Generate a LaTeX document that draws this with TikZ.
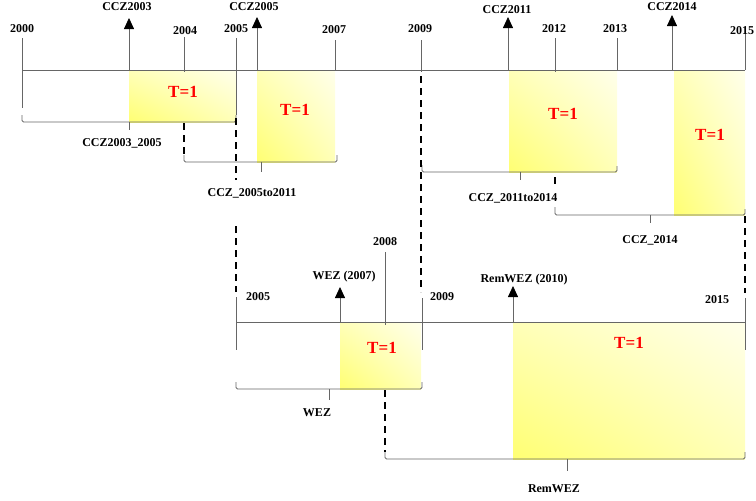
\documentclass[tikz,border=0pt]{standalone}
\usepackage{fontspec}
\setmainfont{Liberation Serif}
\usetikzlibrary{arrows.meta,shadings}
\begin{document}
\begin{tikzpicture}[x=1pt,y=-1pt,
  tl/.style={draw=black!60, line width=0.8pt},
  brk/.style={draw=black!60, line width=0.8pt, rounded corners=1.5pt},
  dl/.style={draw=black, line width=1.6pt, dash pattern=on 7pt off 5pt},
  ar/.style={draw=black!60, line width=0.8pt, -{Triangle[length=11pt,width=10pt,color=black]}},
  lab/.style={font=\bfseries\fontsize{12}{14}\selectfont, inner sep=0pt},
  blab/.style={font=\bfseries\fontsize{12}{14}\selectfont, inner sep=0pt},
  tv/.style={font=\bfseries\fontsize{17}{19}\selectfont, text=red, inner sep=0pt},
  zone/.style={lower left=yellow!55, upper right=yellow!8, upper left=yellow!28, lower right=yellow!28},
]
\useasboundingbox (0,0) rectangle (756,501);

% ---------- shaded zones ----------
\shade[zone] (129,71) rectangle (236,122);
\shade[zone] (257,71) rectangle (335,162);
\shade[zone] (509,71) rectangle (617,172);
\shade[zone] (674,71) rectangle (745,215);
\shade[zone] (340,323) rectangle (421,389);
\shade[zone] (513,323) rectangle (745,459);
\node[tv] (t1) at (183,92) {T=1};
\node[tv] (t2) at (295,110) {T=1};
\node[tv] (t3) at (563,114) {T=1};
\node[tv] (t4) at (710,135) {T=1};
\node[tv] (t5) at (382,348) {T=1};
\node[tv] (t6) at (629,343) {T=1};

% ---------- top timeline ----------
\coordinate (tlA) at (22,70);
\coordinate (tlB) at (745,70);
\draw[tl] (tlA) -- (tlB);

% year ticks (top)
\draw[tl] (22,38) -- (22,108);
\draw[tl] (184,37) -- (184,72);
\draw[tl] (236,38) -- (236,115);
\draw[tl] (335,40) -- (335,70);
\draw[tl] (421,40) -- (421,72);
\draw[tl] (555,38) -- (555,72);
\draw[tl] (617,38) -- (617,70);
\draw[tl] (745,32) -- (745,70);
\node[lab] (y2000) at (22,29) {2000};
\node[lab] (y2004) at (185,31) {2004};
\node[lab] (y2005) at (236,29) {2005};
\node[lab] (y2007) at (334,30) {2007};
\node[lab] (y2009) at (420,29) {2009};
\node[lab] (y2012) at (554,29) {2012};
\node[lab] (y2013) at (615,29) {2013};
\node[lab] (y2015) at (742,31) {2015};

% event arrows (top)
\draw[ar] (129,70) -- (129,18);
\draw[ar] (257,70) -- (257,17);
\draw[ar] (508,70) -- (508,17);
\draw[ar] (672,70) -- (672,15);
\node[lab] (c2003) at (127,7) {CCZ2003};
\node[lab] (c2005) at (254,7) {CCZ2005};
\node[lab] (c2011) at (507,10) {CCZ2011};
\node[lab] (c2014) at (672,7) {CCZ2014};

% brackets (top)
\draw[brk] (22,115) -- (22,122) -- (236,122) -- (236,115);
\draw[tl] (129,122) -- (129,130);
\node[blab] (b1) at (122,143) {CCZ2003\_2005};

\draw[brk] (184,155) -- (184,162) -- (337,162) -- (337,155);
\draw[tl] (261,162) -- (261,172);
\node[blab] (b2) at (252,193) {CCZ\_2005to2011};

\draw[brk] (422,165) -- (422,172) -- (617,172) -- (617,166);
\draw[tl] (520,172) -- (520,180);
\node[blab] (b3) at (513,198) {CCZ\_2011to2014};

\draw[brk] (555,207) -- (555,215) -- (745,215) -- (745,209);
\draw[tl] (650,215) -- (650,223);
\node[blab] (b4) at (650,240) {CCZ\_2014};

% dashed connectors
\draw[dl] (184,123) -- (184,155);
\draw[dl] (236,118) -- (236,180);
\draw[dl] (236,226) -- (236,292);
\draw[dl] (421,76) -- (421,292);
\draw[dl] (555,177) -- (555,185);
\draw[dl] (745,216) -- (745,293);
\draw[dl] (385,390) -- (385,452);

% ---------- bottom timeline ----------
\coordinate (blA) at (236,322);
\coordinate (blB) at (745,322);
\draw[tl] (blA) -- (blB);
\draw[tl] (236,297) -- (236,350);
\draw[tl] (385,252) -- (385,325);
\draw[tl] (422,298) -- (422,350);
\draw[tl] (745,298) -- (745,350);
\node[lab] (z2005) at (258,297) {2005};
\node[lab] (z2008) at (385,242) {2008};
\node[lab] (z2009) at (442,297) {2009};
\node[lab] (z2015) at (717,300) {2015};

\draw[ar] (340,322) -- (340,287);
\draw[ar] (513,322) -- (513,286);
\node[lab] (wez) at (344,277) {WEZ (2007)};
\node[lab] (rwez) at (524,280) {RemWEZ (2010)};

% brackets (bottom)
\draw[brk] (236,382) -- (236,389) -- (422,389) -- (422,382);
\draw[tl] (329,389) -- (329,400);
\node[blab] (b5) at (317,413) {WEZ};

\draw[brk] (385,452) -- (385,459) -- (745,459) -- (745,452);
\draw[tl] (567,459) -- (567,471);
\node[blab] (b6) at (554,489) {RemWEZ};
\end{tikzpicture}
\end{document}
